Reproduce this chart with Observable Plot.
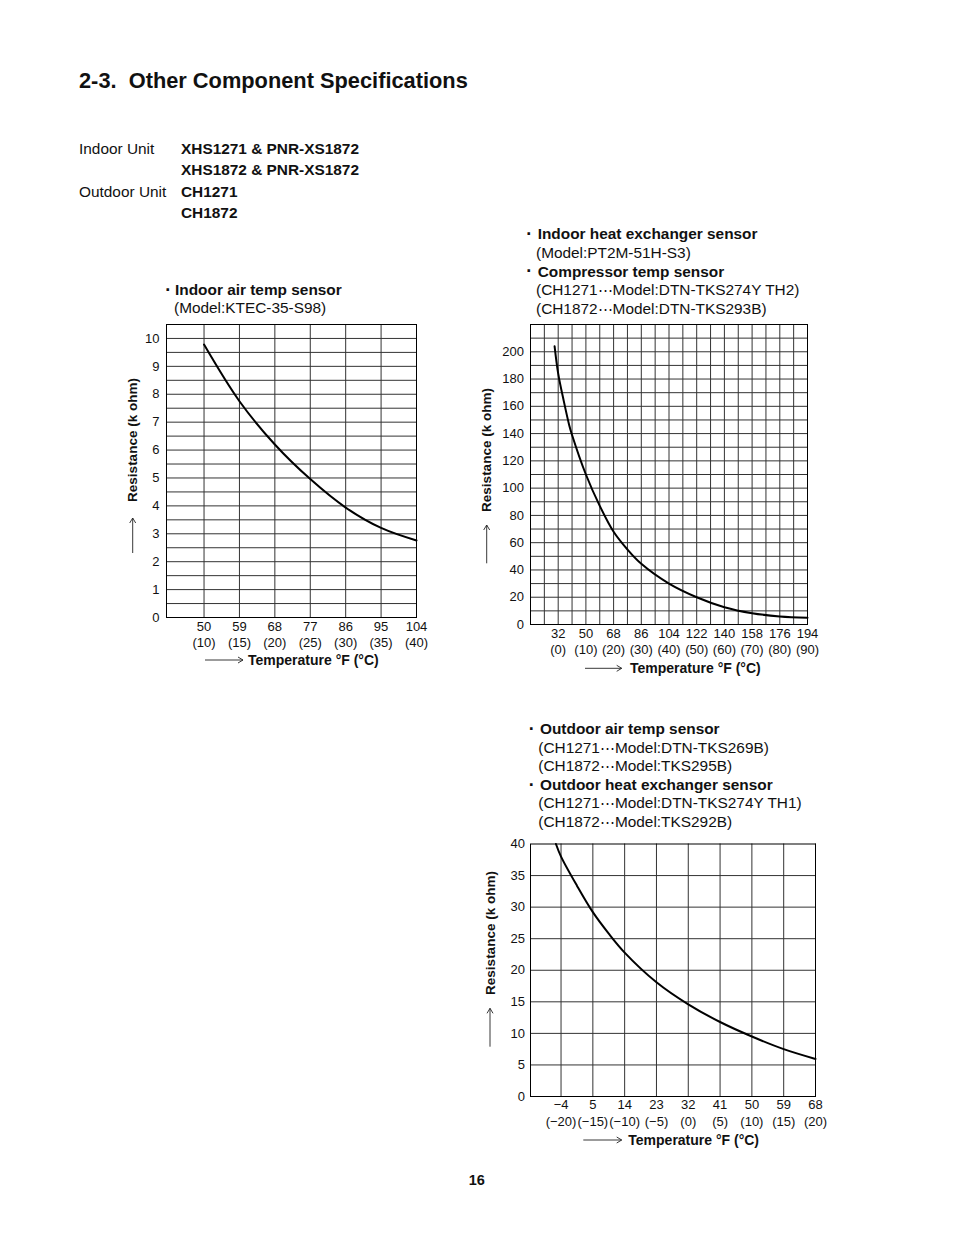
<!DOCTYPE html>
<html>
<head>
<meta charset="utf-8">
<script src="https://cdn.jsdelivr.net/npm/d3@7"></script>
<script src="https://cdn.jsdelivr.net/npm/@observablehq/plot@0.6"></script>
<style>
html,body{margin:0;padding:0;background:#fff;}
#page{position:relative;width:954px;height:1235px;overflow:hidden;font-family:"Liberation Sans",Arial,Helvetica,sans-serif;color:#111;}
.t{position:absolute;white-space:pre;line-height:1;}
.b{font-weight:bold;}
</style>
</head>
<body>
<div id="page"></div>
<script>
// ---------- Chart 1: Indoor air temp sensor ----------
const c1TempC = [10, 15, 20, 25, 30, 35, 40];
const c1ResK = [9.78, 7.75, 6.2, 4.96, 3.94, 3.21, 2.76];
const c1TickC = [10, 15, 20, 25, 30, 35, 40];
const c1TickF = ["50", "59", "68", "77", "86", "95", "104"];
const c1TickCL = ["(10)", "(15)", "(20)", "(25)", "(30)", "(35)", "(40)"];
const c1TickY = [0, 1, 2, 3, 4, 5, 6, 7, 8, 9, 10];

// ---------- Chart 2: Indoor heat exchanger / compressor temp sensor ----------
const c2TempC = [-1.3, 0, 2, 4, 5, 10, 15, 20, 25, 30, 40, 50, 60, 70, 80, 90];
const c2ResK = [204, 184, 164, 146, 139, 110, 87, 68, 55, 44.5, 30, 20, 12.7, 8.3, 5.9, 4.9];
const c2TickC = [0, 10, 20, 30, 40, 50, 60, 70, 80, 90];
const c2TickF = ["32", "50", "68", "86", "104", "122", "140", "158", "176", "194"];
const c2TickCL = ["(0)", "(10)", "(20)", "(30)", "(40)", "(50)", "(60)", "(70)", "(80)", "(90)"];
const c2TickY = [0, 20, 40, 60, 80, 100, 120, 140, 160, 180, 200];

// ---------- Chart 3: Outdoor air / heat exchanger sensor ----------
const c3TempC = [-20.8, -20, -17.5, -15, -12.5, -10, -5, 0, 5, 10, 15, 20];
const c3ResK = [40, 38, 33.4, 29.2, 25.8, 22.8, 18.1, 14.6, 11.8, 9.5, 7.5, 5.95];
const c3TickC = [-20, -15, -10, -5, 0, 5, 10, 15, 20];
const c3TickF = ["\u22124", "5", "14", "23", "32", "41", "50", "59", "68"];
const c3TickCL = ["(\u221220)", "(\u221215)", "(\u221210)", "(\u22125)", "(0)", "(5)", "(10)", "(15)", "(20)"];
const c3TickY = [0, 5, 10, 15, 20, 25, 30, 35, 40];

const FONT = '"Liberation Sans", Arial, Helvetica, sans-serif';
const page = document.getElementById("page");

function txt(x, cy, s, size, bold, extra) {
  const d = document.createElement("div");
  d.className = "t" + (bold ? " b" : "");
  d.style.fontSize = size + "px";
  d.style.left = x + "px";
  d.style.top = (cy - 0.4885 * size) + "px";
  if (extra) d.style.transform = extra;
  d.textContent = s;
  page.appendChild(d);
  return d;
}
function rot(cx, cy, s, size, bold) {
  const d = document.createElement("div");
  d.className = "t" + (bold ? " b" : "");
  d.style.fontSize = size + "px";
  d.style.left = cx + "px";
  d.style.top = cy + "px";
  d.style.transform = "translate(-50%,-50%) rotate(-90deg)";
  d.textContent = s;
  page.appendChild(d);
}

function makeChart(o) {
  const data = o.temp.map((t, i) => ({t, r: o.res[i]}));
  const svg = Plot.plot({
    width: o.w, height: o.h,
    marginLeft: o.ml, marginRight: o.mr, marginTop: o.mt, marginBottom: o.mb,
    x: {domain: o.xDomain},
    y: {domain: o.yDomain},
    style: {fontFamily: FONT, fontSize: "13px", color: "#111", background: "transparent", overflow: "visible"},
    marks: [
      Plot.gridX(o.gridX, {stroke: "#333", strokeOpacity: 1, strokeWidth: 1}),
      Plot.gridY(o.gridY, {stroke: "#333", strokeOpacity: 1, strokeWidth: 1}),
      Plot.frame({stroke: "#000", strokeWidth: 1}),
      Plot.line(data, {x: "t", y: "r", curve: "catmull-rom", stroke: "#000", strokeWidth: 2}),
      Plot.axisY(o.tickY, {tickSize: 0, tickPadding: o.padY, label: null, fontSize: 13}),
      Plot.axisX(o.tickC, {
        tickSize: 0, tickPadding: o.padX, label: null, fontSize: 13, lineHeight: o.lh,
        tickFormat: (d) => { const i = o.tickC.indexOf(d); return o.tickF[i] + "\n" + o.tickCL[i]; }
      })
    ]
  });
  svg.style.position = "absolute";
  svg.style.left = o.left + "px";
  svg.style.top = o.top + "px";
  page.appendChild(svg);
}

makeChart({
  left: 126, top: 318, w: 310, h: 349, ml: 40, mr: 20, mt: 6, mb: 50,
  xDomain: [4.7, 40], yDomain: [0, 10.5],
  gridX: c1TickC, gridY: d3.range(0.5, 10.5, 0.5),
  tickC: c1TickC, tickF: c1TickF, tickCL: c1TickCL, tickY: c1TickY,
  temp: c1TempC, res: c1ResK, padX: 2.5, padY: 7, lh: 1.23
});
makeChart({
  left: 480, top: 318, w: 347, h: 356, ml: 50, mr: 20, mt: 6, mb: 50,
  xDomain: [-10, 90], yDomain: [0, 220],
  gridX: d3.range(-5, 90, 5), gridY: d3.range(10, 220, 10),
  tickC: c2TickC, tickF: c2TickF, tickCL: c2TickCL, tickY: c2TickY,
  temp: c2TempC, res: c2ResK, padX: 2.5, padY: 6.5, lh: 1.23
});
makeChart({
  left: 480, top: 838, w: 355, h: 308, ml: 50, mr: 20, mt: 5.5, mb: 50,
  xDomain: [-24.8, 20], yDomain: [0, 40],
  gridX: c3TickC, gridY: d3.range(5, 40, 5),
  tickC: c3TickC, tickF: c3TickF, tickCL: c3TickCL, tickY: c3TickY,
  temp: c3TempC, res: c3ResK, padX: 0.5, padY: 5.5, lh: 1.31
});

// ---------- Page text ----------
txt(79, 80.5, "2-3.  Other Component Specifications", 21.8, true);

const FS = 15.4;
txt(79, 148.5, "Indoor Unit", FS, false);
txt(181, 148.5, "XHS1271 & PNR-XS1872", FS, true);
txt(181, 170, "XHS1872 & PNR-XS1872", FS, true);
txt(79, 191.5, "Outdoor Unit", FS, false);
txt(181, 191.5, "CH1271", FS, true);
txt(181, 213, "CH1872", FS, true);

function bullet(cx, cy) { txt(cx, cy, "\u00B7", 18, true, "translateX(-50%)"); }

// chart 1 heading
bullet(168.3, 289.5); txt(175, 289.5, "Indoor air temp sensor", FS, true);
txt(174, 307.5, "(Model:KTEC-35-S98)", FS, false);

// chart 2 heading
bullet(529.3, 233.7); txt(537.7, 233.7, "Indoor heat exchanger sensor", FS, true);
txt(536, 252.4, "(Model:PT2M-51H-S3)", FS, false);
bullet(529.3, 271.1); txt(537.7, 271.1, "Compressor temp sensor", FS, true);
txt(536, 289.8, "(CH1271\u22EFModel:DTN-TKS274Y TH2)", FS, false);
txt(536, 308.5, "(CH1872\u22EFModel:DTN-TKS293B)", FS, false);

// chart 3 heading
bullet(531.7, 728.8); txt(540, 728.8, "Outdoor air temp sensor", FS, true);
txt(538.3, 747.3, "(CH1271\u22EFModel:DTN-TKS269B)", FS, false);
txt(538.3, 765.8, "(CH1872\u22EFModel:TKS295B)", FS, false);
bullet(531.7, 784.3); txt(540, 784.3, "Outdoor heat exchanger sensor", FS, true);
txt(538.3, 802.8, "(CH1271\u22EFModel:DTN-TKS274Y TH1)", FS, false);
txt(538.3, 821.3, "(CH1872\u22EFModel:TKS292B)", FS, false);

// axis titles
rot(133.3, 439.5, "Resistance (k ohm)", 13.5, true);
rot(486.7, 450, "Resistance (k ohm)", 13.5, true);
rot(490.8, 933.3, "Resistance (k ohm)", 13.5, true);
txt(248, 659.7, "Temperature \u00B0F (\u00B0C)", 14, true);
txt(630, 668.3, "Temperature \u00B0F (\u00B0C)", 14, true);
txt(628.3, 1140, "Temperature \u00B0F (\u00B0C)", 14, true);

// page number
txt(476.8, 1180.5, "16", 14.5, true, "translateX(-50%)");

// ---------- Arrows (decorative) ----------
const ns = "http://www.w3.org/2000/svg";
const ov = document.createElementNS(ns, "svg");
ov.setAttribute("width", 954); ov.setAttribute("height", 1235);
ov.style.position = "absolute"; ov.style.left = "0"; ov.style.top = "0"; ov.style.pointerEvents = "none";
page.appendChild(ov);
function arrow(x1, y1, x2, y2) {
  const dx = x2 - x1, dy = y2 - y1, L = Math.hypot(dx, dy), ux = dx / L, uy = dy / L;
  const hl = 5, hw = 3;
  const p = document.createElementNS(ns, "path");
  const bx = x2 - ux * hl, by = y2 - uy * hl;
  p.setAttribute("d", `M${x1},${y1}L${x2},${y2}M${bx - uy * hw},${by + ux * hw}L${x2},${y2}L${bx + uy * hw},${by - ux * hw}`);
  p.setAttribute("fill", "none"); p.setAttribute("stroke", "#222"); p.setAttribute("stroke-width", "0.9");
  ov.appendChild(p);
}
arrow(132.7, 553, 132.7, 518);
arrow(486.7, 563.3, 486.7, 525);
arrow(490, 1046.7, 490, 1008.3);
arrow(205, 660, 243, 660);
arrow(585, 668.3, 621.7, 668.3);
arrow(583.3, 1140, 621.7, 1140);
</script>
</body>
</html>
